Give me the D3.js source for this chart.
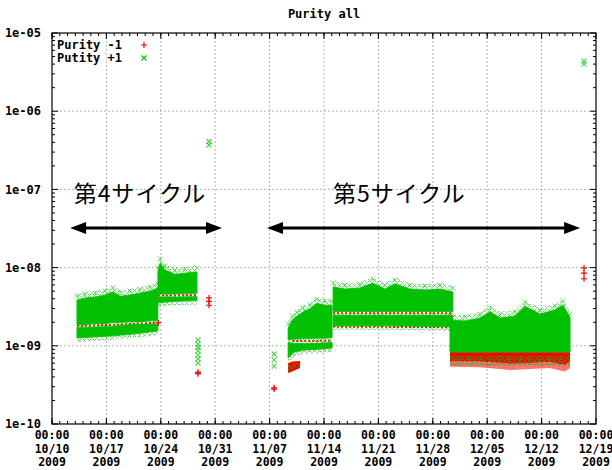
<!DOCTYPE html>
<html>
<head>
<meta charset="utf-8">
<script src="https://cdn.jsdelivr.net/npm/d3@7"></script>
<style>
body { margin: 0; background: #fff; }
#chart text.mono { font-family: "DejaVu Sans Mono", monospace; font-weight: bold; font-size: 12px; fill: #000; }
#chart text.tick { font-size: 11.5px; }
#chart text.jp { font-family: "Noto Sans CJK JP", sans-serif; font-size: 23px; letter-spacing: 1px; fill: #000; }
</style>
</head>
<body>
<div id="chart"></div>
<script>
const parse = d3.utcParse("%Y-%m-%d %H:%M");

// axis
const xDomain = ["2009-10-10 00:00", "2009-12-19 00:00"];
const yTicks = [1e-10, 1e-9, 1e-8, 1e-7, 1e-6, 1e-5];
const yTickLabels = ["1e-10", "1e-09", "1e-08", "1e-07", "1e-06", "1e-05"];

// Putity +1 (green) dense bands: [time, low, high]
const plusA1 = [
  ["2009-10-13 05:00", 1.87e-9, 3.85e-9], ["2009-10-14 06:00", 1.87e-9, 4.1e-9],
  ["2009-10-15 13:00", 1.92e-9, 4.2e-9], ["2009-10-16 20:00", 1.92e-9, 4.46e-9],
  ["2009-10-17 20:00", 1.98e-9, 4.9e-9], ["2009-10-18 18:00", 1.98e-9, 4.3e-9],
  ["2009-10-20 01:00", 2.02e-9, 4.46e-9], ["2009-10-21 08:00", 2.02e-9, 4.73e-9],
  ["2009-10-22 15:00", 2.09e-9, 5.0e-9], ["2009-10-23 15:00", 2.09e-9, 5.5e-9]
];
const plusA2 = [
  ["2009-10-13 05:00", 1.26e-9, 1.72e-9], ["2009-10-15 13:00", 1.3e-9, 1.74e-9],
  ["2009-10-17 20:00", 1.34e-9, 1.78e-9], ["2009-10-20 01:00", 1.4e-9, 1.86e-9],
  ["2009-10-22 15:00", 1.5e-9, 1.9e-9], ["2009-10-23 15:00", 1.55e-9, 1.9e-9]
];
const plusB1 = [
  ["2009-10-23 15:00", 4.6e-9, 8.8e-9], ["2009-10-23 22:00", 4.6e-9, 1.15e-8],
  ["2009-10-24 13:00", 4.6e-9, 9.3e-9], ["2009-10-25 20:00", 4.6e-9, 8.2e-9],
  ["2009-10-27 03:00", 4.65e-9, 8.5e-9], ["2009-10-28 16:00", 4.7e-9, 8.8e-9]
];
const plusB2 = [
  ["2009-10-23 15:00", 3.55e-9, 4.2e-9], ["2009-10-26 00:00", 3.7e-9, 4.2e-9],
  ["2009-10-28 16:00", 3.8e-9, 4.25e-9]
];
const plusC1 = [
  ["2009-11-09 09:00", 1.19e-9, 1.69e-9], ["2009-11-09 22:00", 1.21e-9, 2.14e-9],
  ["2009-11-10 13:00", 1.22e-9, 2.4e-9], ["2009-11-11 07:00", 1.23e-9, 2.7e-9],
  ["2009-11-12 05:00", 1.24e-9, 3.0e-9], ["2009-11-13 02:00", 1.25e-9, 3.5e-9],
  ["2009-11-14 03:00", 1.25e-9, 3.3e-9], ["2009-11-15 01:00", 1.27e-9, 3.3e-9]
];
const plusC2 = [
  ["2009-11-09 09:00", 7.0e-10, 1.1e-9], ["2009-11-10 04:00", 8.3e-10, 1.07e-9],
  ["2009-11-11 07:00", 8.8e-10, 1.07e-9], ["2009-11-13 02:00", 9.0e-10, 1.08e-9],
  ["2009-11-15 01:00", 9.4e-10, 1.1e-9]
];
const plusD1 = [
  ["2009-11-15 04:00", 2.75e-9, 5.65e-9], ["2009-11-16 17:00", 2.75e-9, 5.32e-9],
  ["2009-11-18 15:00", 2.75e-9, 5.5e-9], ["2009-11-20 07:00", 2.75e-9, 6.35e-9],
  ["2009-11-21 20:00", 2.75e-9, 5.32e-9], ["2009-11-23 03:00", 2.75e-9, 6.2e-9],
  ["2009-11-25 02:00", 2.75e-9, 5.32e-9], ["2009-11-27 00:00", 2.75e-9, 5.17e-9],
  ["2009-11-28 22:00", 2.75e-9, 5.32e-9], ["2009-11-30 14:00", 2.75e-9, 4.88e-9]
];
const plusD2 = [
  ["2009-11-15 04:00", 1.8e-9, 2.45e-9], ["2009-11-22 00:00", 1.8e-9, 2.45e-9],
  ["2009-11-30 14:00", 1.75e-9, 2.45e-9]
];
const plusE1 = [
  ["2009-11-30 05:00", 8.3e-10, 2.14e-9], ["2009-12-02 04:00", 8.3e-10, 2.08e-9],
  ["2009-12-04 02:00", 8.3e-10, 2.27e-9], ["2009-12-05 09:00", 8.3e-10, 2.73e-9],
  ["2009-12-06 16:00", 8.3e-10, 2.27e-9], ["2009-12-08 14:00", 8.3e-10, 2.4e-9],
  ["2009-12-09 21:00", 8.3e-10, 3.2e-9], ["2009-12-11 19:00", 8.3e-10, 2.55e-9],
  ["2009-12-13 17:00", 8.3e-10, 2.87e-9], ["2009-12-14 18:00", 8.3e-10, 3.33e-9],
  ["2009-12-15 16:00", 8.3e-10, 2.27e-9]
];
// sparse green mixed into the red at the bottom of the last block
const plusE2 = [
  ["2009-11-30 05:00", 5.6e-10, 7.4e-10], ["2009-12-15 16:00", 5.6e-10, 7.4e-10]
];
const plusC3 = [
  ["2009-11-09 09:00", 4.8e-10, 5.6e-10], ["2009-11-10 22:00", 5.5e-10, 6.2e-10]
];

// Purity -1 (red)
const minusLines = [
  [["2009-10-13 05:00", 1.8e-9], ["2009-10-17 20:00", 1.85e-9], ["2009-10-23 15:00", 1.98e-9]],
  [["2009-10-23 15:00", 4.38e-9], ["2009-10-28 16:00", 4.45e-9]],
  [["2009-11-09 22:00", 1.15e-9], ["2009-11-15 01:00", 1.16e-9]],
  [["2009-11-15 04:00", 2.6e-9], ["2009-11-30 14:00", 2.6e-9]],
  [["2009-11-15 04:00", 1.76e-9], ["2009-11-30 14:00", 1.73e-9]]
];
const minusC = [
  ["2009-11-09 09:00", 4.5e-10, 6.0e-10], ["2009-11-09 22:00", 4.7e-10, 6.3e-10],
  ["2009-11-10 22:00", 5.2e-10, 6.4e-10]
];
const minusE = [
  ["2009-11-30 05:00", 6.4e-10, 8.4e-10], ["2009-12-04 02:00", 6.3e-10, 8.4e-10],
  ["2009-12-08 00:00", 5.9e-10, 8.4e-10], ["2009-12-10 00:00", 6.0e-10, 8.4e-10],
  ["2009-12-13 00:00", 6.2e-10, 8.4e-10], ["2009-12-15 00:00", 5.7e-10, 8.4e-10],
  ["2009-12-15 16:00", 6.2e-10, 8.4e-10]
];
const minusE2 = [
  ["2009-11-30 05:00", 5.4e-10, 6.4e-10], ["2009-12-04 02:00", 5.3e-10, 6.3e-10],
  ["2009-12-08 00:00", 4.9e-10, 5.9e-10], ["2009-12-10 00:00", 5.0e-10, 6.0e-10],
  ["2009-12-13 00:00", 5.2e-10, 6.2e-10], ["2009-12-15 00:00", 4.7e-10, 5.7e-10],
  ["2009-12-15 16:00", 5.2e-10, 6.2e-10]
];
const minusPoints = [
  ["2009-10-23 17:00", 1.96e-9],
  ["2009-10-28 19:00", 4.4e-10], ["2009-10-28 19:00", 4.6e-10],
  ["2009-10-30 05:00", 4.1e-9], ["2009-10-30 05:00", 3.7e-9], ["2009-10-30 05:00", 3.3e-9],
  ["2009-11-07 14:00", 2.8e-10], ["2009-11-07 14:00", 2.9e-10],
  ["2009-12-17 11:00", 9.9e-9], ["2009-12-17 11:00", 8.5e-9], ["2009-12-17 11:00", 7.2e-9]
];
const plusPoints = [
  ["2009-10-28 19:00", 1.19e-9], ["2009-10-28 19:00", 1.05e-9], ["2009-10-28 19:00", 9.5e-10],
  ["2009-10-28 19:00", 8.6e-10], ["2009-10-28 19:00", 7.6e-10], ["2009-10-28 19:00", 6.8e-10],
  ["2009-10-28 19:00", 6.0e-10],
  ["2009-10-30 05:00", 4.1e-7], ["2009-10-30 05:00", 3.7e-7],
  ["2009-11-07 14:00", 7.85e-10], ["2009-11-07 14:00", 6.6e-10], ["2009-11-07 14:00", 5.5e-10],
  ["2009-12-17 11:00", 4.4e-6], ["2009-12-17 11:00", 4.0e-6]
];

// annotations
const cycles = [
  { label: "第4サイクル", textAt: ["2009-10-12 19:00", 6.9e-8], from: "2009-10-12 08:00", to: "2009-10-31 21:00" },
  { label: "第5サイクル", textAt: ["2009-11-15 04:00", 6.9e-8], from: "2009-11-06 16:00", to: "2009-12-16 23:00" }
];
const arrowLevel = 3.2e-8;

const green = "#00c000", red = "#ff0000";
const margin = { top: 33, right: 16, bottom: 46, left: 52 };
const width = 612 - margin.left - margin.right;
const height = 470 - margin.top - margin.bottom;

const svg = d3.select("#chart").append("svg")
  .attr("width", 612).attr("height", 470);

// x-mark texture for the ragged edges of the dense point clouds
const defs = svg.append("defs");
const pat = defs.append("pattern").attr("id", "gx")
  .attr("width", 5).attr("height", 5).attr("patternUnits", "userSpaceOnUse");
pat.append("path").attr("d", "M0.5,0.5l4,4M0.5,4.5l4,-4")
  .attr("stroke", green).attr("stroke-width", 1);

const g = svg.append("g").attr("transform", `translate(${margin.left},${margin.top})`);

const x = d3.scaleUtc().domain(xDomain.map(parse)).range([0, width]);
const y = d3.scaleLog().domain([1e-10, 1e-5]).range([height, 0]);

const toBand = arr => arr.map(d => ({ t: parse(d[0]), lo: d[1], hi: d[2] }));
const area = d3.area().x(d => x(d.t)).y0(d => y(d.lo)).y1(d => y(d.hi));
const topFringe = d3.area().x(d => x(d.t)).y0(d => y(d.hi)).y1(d => y(d.hi) - 6);
const botFringe = d3.area().x(d => x(d.t)).y0(d => y(d.lo) + 4).y1(d => y(d.lo));
const line = d3.line().x(d => x(parse(d[0]))).y(d => y(d[1]));

// grid
const weeks = d3.utcSaturday.range(x.domain()[0], d3.utcDay.offset(x.domain()[1], 1));
const days = d3.utcDay.range(x.domain()[0], x.domain()[1]);
g.append("g").selectAll("line").data(weeks.slice(1, -1)).join("line")
  .attr("x1", d => x(d)).attr("x2", d => x(d)).attr("y1", 0).attr("y2", height)
  .attr("stroke", "#a0a0a0").attr("stroke-dasharray", "1.5,2.5");
g.append("g").selectAll("line").data(yTicks.slice(1, -1)).join("line")
  .attr("x1", 0).attr("x2", width).attr("y1", d => y(d)).attr("y2", d => y(d))
  .attr("stroke", "#a0a0a0").attr("stroke-dasharray", "1.5,2.5");

// Purity -1 underneath
const pts = g.append("g");
pts.append("path").datum(toBand(minusC)).attr("d", area).attr("fill", red);
pts.append("path").datum(toBand(minusE)).attr("d", area).attr("fill", red);
pts.append("path").datum(toBand(minusE2)).attr("d", area).attr("fill", red).attr("fill-opacity", 0.55);
minusLines.forEach(l => {
  pts.append("path").datum(l).attr("d", line).attr("fill", "none")
    .attr("stroke", red).attr("stroke-width", 2).attr("stroke-dasharray", "2,2");
});
const plusSym = (px, py, s) => `M${px - s},${py}h${2 * s}M${px},${py - s}v${2 * s}`;
const crossSym = (px, py, s) => `M${px - s},${py - s}l${2 * s},${2 * s}M${px - s},${py + s}l${2 * s},${-2 * s}`;
pts.append("g").selectAll("path").data(minusPoints).join("path")
  .attr("d", d => plusSym(x(parse(d[0])), y(d[1]), 3))
  .attr("stroke", red).attr("stroke-width", 1.2);

// Putity +1 on top
const upperBands = [plusA1, plusB1, plusC1, plusD1, plusE1];
const lowerBands = [plusA2, plusB2, plusC2, plusD2];
[...upperBands, ...lowerBands].forEach(b => {
  const band = toBand(b);
  pts.append("path").datum(band).attr("d", area).attr("fill", green)
    .attr("stroke", green).attr("stroke-width", 0.8).attr("stroke-linejoin", "round");
  pts.append("path").datum(band).attr("d", topFringe).attr("fill", "url(#gx)").attr("opacity", 0.6);
});
lowerBands.forEach(b => {
  pts.append("path").datum(toBand(b)).attr("d", botFringe).attr("fill", "url(#gx)").attr("opacity", 0.7);
});
upperBands.forEach(b => {
  pts.append("g").selectAll("path").data(toBand(b)).join("path")
    .attr("d", d => crossSym(x(d.t), y(d.hi) - 4, 2.5))
    .attr("stroke", green).attr("stroke-opacity", 0.5);
});
[plusE2, plusC3].forEach(b => {
  pts.append("path").datum(toBand(b)).attr("d", area).attr("fill", "url(#gx)");
});
pts.append("g").selectAll("path").data(plusPoints).join("path")
  .attr("d", d => crossSym(x(parse(d[0])), y(d[1]), 2.5))
  .attr("stroke", green).attr("stroke-opacity", 0.7).attr("stroke-width", 1.2);

// ticks on all four sides
const tk = g.append("g").attr("stroke", "#000");
weeks.forEach(d => {
  tk.append("line").attr("x1", x(d)).attr("x2", x(d)).attr("y1", height).attr("y2", height - 6);
  tk.append("line").attr("x1", x(d)).attr("x2", x(d)).attr("y1", 0).attr("y2", 6);
});
days.forEach(d => {
  tk.append("line").attr("x1", x(d)).attr("x2", x(d)).attr("y1", height).attr("y2", height - 3);
  tk.append("line").attr("x1", x(d)).attr("x2", x(d)).attr("y1", 0).attr("y2", 3);
});
yTicks.forEach((v, i) => {
  tk.append("line").attr("x1", 0).attr("x2", 6).attr("y1", y(v)).attr("y2", y(v));
  tk.append("line").attr("x1", width).attr("x2", width - 6).attr("y1", y(v)).attr("y2", y(v));
  if (i < yTicks.length - 1) {
    d3.range(2, 10).forEach(m => {
      tk.append("line").attr("x1", 0).attr("x2", 3).attr("y1", y(v * m)).attr("y2", y(v * m));
      tk.append("line").attr("x1", width).attr("x2", width - 3).attr("y1", y(v * m)).attr("y2", y(v * m));
    });
  }
});
g.append("rect").attr("width", width).attr("height", height)
  .attr("fill", "none").attr("stroke", "#000").attr("stroke-width", 1.2);

// tick labels
g.append("g").selectAll("text").data(yTicks).join("text")
  .attr("class", "mono").attr("x", -11).attr("y", d => y(d)).attr("dy", "0.35em")
  .attr("text-anchor", "end").text((d, i) => yTickLabels[i]);
const fmts = [d3.utcFormat("%H:%M"), d3.utcFormat("%m/%d"), d3.utcFormat("%Y")];
const xl = g.append("g").selectAll("text").data(weeks).join("text")
  .attr("class", "mono tick").attr("text-anchor", "middle")
  .attr("transform", d => `translate(${x(d)},${height + 15})`);
fmts.forEach((f, i) => {
  xl.append("tspan").attr("x", 0).attr("y", i * 13.5).text(d => f(d));
});

// title
svg.append("text").attr("class", "mono").attr("x", margin.left + width / 2).attr("y", 18)
  .attr("text-anchor", "middle").text("Purity all");

// legend
const lg = g.append("g");
lg.append("text").attr("class", "mono").attr("x", 5).attr("y", 12).attr("dy", "0.35em").text("Purity -1");
lg.append("text").attr("class", "mono").attr("x", 5).attr("y", 25).attr("dy", "0.35em").text("Putity +1");
lg.append("path").attr("d", plusSym(92, 12, 3)).attr("stroke", red).attr("stroke-width", 1.2);
lg.append("path").attr("d", crossSym(92, 25, 2.5)).attr("stroke", green).attr("stroke-width", 1.2);

// cycle annotations
const ann = g.append("g");
cycles.forEach(c => {
  ann.append("text").attr("class", "jp")
    .attr("x", x(parse(c.textAt[0]))).attr("y", y(c.textAt[1])).text(c.label);
  const x1 = x(parse(c.from)), x2 = x(parse(c.to)), ay = y(arrowLevel);
  ann.append("line").attr("x1", x1 + 10).attr("x2", x2 - 10).attr("y1", ay).attr("y2", ay)
    .attr("stroke", "#000").attr("stroke-width", 3);
  ann.append("path").attr("d", `M${x1},${ay}L${x1 + 16},${ay - 6}L${x1 + 16},${ay + 6}Z`).attr("fill", "#000");
  ann.append("path").attr("d", `M${x2},${ay}L${x2 - 16},${ay - 6}L${x2 - 16},${ay + 6}Z`).attr("fill", "#000");
});
</script>
</body>
</html>
